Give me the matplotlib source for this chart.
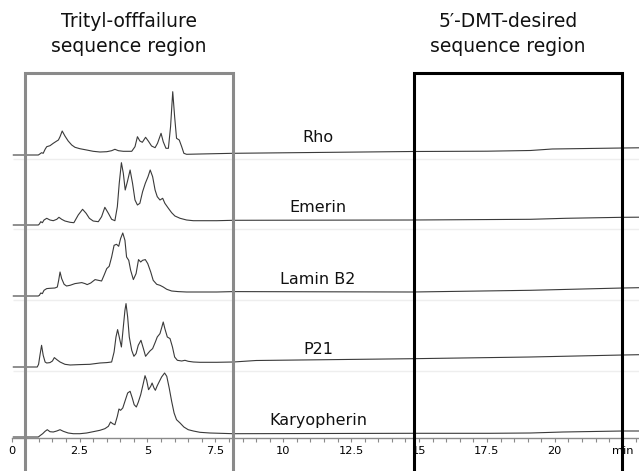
import numpy as np
import matplotlib.pyplot as plt
from matplotlib.patches import Rectangle

# chromatogram traces, time in min, signal height above each trace's own baseline
samples = ['Rho', 'Emerin', 'Lamin B2', 'P21', 'Karyopherin']

rho_t = [0.06, 0.98, 1.02, 1.10, 1.16, 1.23, 1.29, 1.41, 1.53, 1.66, 1.72, 1.78, 1.86, 1.96,
         2.08, 2.21, 2.33, 2.51, 2.76, 3.00, 3.25, 3.50, 3.68, 3.80, 3.93, 4.11, 4.42, 4.54,
         4.63, 4.72, 4.81, 4.93, 5.03, 5.15, 5.28, 5.37, 5.50, 5.58, 5.68, 5.77, 5.85, 5.93,
         6.00, 6.07, 6.17, 6.26, 6.34, 6.44, 6.93, 8.16, 14.77, 17.5, 19.1, 19.9, 22.5, 23.1]
rho_h = [0, 0, 0.7, 2.3, 1.7, 5.7, 8.3, 9.3, 11.7, 14, 15, 18.3, 24, 19,
         14, 10, 7.7, 6.3, 5, 3.7, 3, 3.3, 4.3, 5.7, 4.3, 3.7, 3.7, 8.3,
         18.3, 14, 12.7, 17.7, 14, 9, 7.3, 11.7, 21.7, 13.3, 6.7, 6.7, 28.3, 63.3,
         38.3, 16.7, 15, 8.3, 1.7, 0.7, 1.0, 1.7, 3.5, 3.8, 4.5, 6.0, 7.0, 7.2]

emerin_t = [0.06, 0.98, 1.02, 1.07, 1.13, 1.19, 1.29, 1.41, 1.53, 1.66, 1.74, 1.84, 1.96, 2.15,
            2.29, 2.45, 2.61, 2.74, 2.86, 3.00, 3.19, 3.31, 3.43, 3.56, 3.68, 3.80, 3.89, 3.96,
            4.04, 4.11, 4.18, 4.26, 4.36, 4.45, 4.54, 4.63, 4.72, 4.82, 4.92, 5.02, 5.10, 5.19,
            5.28, 5.36, 5.46, 5.56, 5.64, 5.77, 5.89, 6.01, 6.20, 6.44, 6.69, 7.55, 8.16,
            14.77, 19.1, 20.4, 22.5, 23.1]
emerin_h = [0, 0, 1.0, 3.3, 2.3, 5, 6.7, 5, 4.3, 5.7, 7.7, 5.7, 4, 2.7,
            2.3, 10, 15.7, 11.7, 6.7, 4, 3.3, 8.3, 17.7, 11.7, 5.7, 4.3, 18.3, 41.7,
            62.3, 51.7, 35, 43.3, 55, 41.7, 25, 20, 21.7, 33.3, 41.7, 48.3, 55, 48.3,
            35, 28.3, 25, 26.7, 21.7, 16.7, 12.3, 9, 6.7, 5, 4.3, 4.3, 4.7,
            5.0, 5.7, 6.7, 7.7, 7.8]

lamin_t = [0.06, 0.98, 1.02, 1.07, 1.13, 1.19, 1.29, 1.41, 1.59, 1.68, 1.73, 1.78, 1.84, 1.93,
           2.02, 2.15, 2.33, 2.58, 2.70, 2.78, 2.91, 3.07, 3.19, 3.31, 3.40, 3.50, 3.59, 3.68,
           3.77, 3.86, 3.94, 4.01, 4.09, 4.17, 4.23, 4.31, 4.38, 4.48, 4.58, 4.67, 4.75, 4.82,
           4.92, 5.01, 5.12, 5.21, 5.34, 5.46, 5.58, 5.71, 5.89, 6.13, 6.44, 7.55, 8.16,
           14.77, 19.1, 22.5, 23.1]
lamin_h = [0, 0, 0.7, 3, 2.4, 5.7, 7.4, 7.7, 8, 9, 15.7, 24, 17.4, 11.7,
           10, 10.7, 12.4, 13.4, 12.4, 11.4, 13, 16.4, 15.7, 15, 20.7, 27.4, 29.7, 39,
           50.7, 51.7, 49.7, 57.4, 63, 55.7, 39, 35.7, 25.7, 16.4, 22.4, 36.4, 34, 35.7,
           36.4, 32.4, 24, 15.7, 11.7, 10.7, 9, 6.7, 5, 4.4, 4, 4, 4.4,
           4.0, 5.7, 8.0, 8.3]

p21_t = [0.06, 0.94, 0.99, 1.04, 1.10, 1.16, 1.23, 1.29, 1.41, 1.50, 1.57, 1.66, 1.78, 1.96,
         2.15, 2.51, 2.88, 3.25, 3.50, 3.68, 3.77, 3.84, 3.90, 3.96, 4.04, 4.11, 4.17, 4.21,
         4.27, 4.33, 4.42, 4.50, 4.58, 4.66, 4.76, 4.85, 4.93, 5.01, 5.09, 5.19, 5.29, 5.36,
         5.46, 5.53, 5.58, 5.64, 5.73, 5.83, 5.92, 6.00, 6.10, 6.26, 6.38, 6.50, 6.69, 6.93,
         7.55, 8.16, 9.0, 14.77, 19.1, 22.5, 23.1]
p21_h = [0, 0, 2.7, 11.7, 21.7, 11.7, 5, 4, 4.4, 6, 9.4, 7.4, 5, 2.7,
         2, 2.4, 2.7, 4, 4.4, 5, 15, 30, 37.4, 30, 20, 40, 56.7, 63.4,
         50, 30, 16.7, 10.7, 13.4, 21.7, 26.7, 18.4, 10.7, 13.4, 16, 18.4, 25, 30,
         33.4, 40, 45, 38.4, 30, 28.4, 20, 10, 6.7, 6, 6.7, 5.7, 5, 4.7,
         4.7, 5.0, 6.5, 8.3, 10.0, 12.0, 12.3]

karyo_t = [0.06, 0.98, 1.04, 1.14, 1.23, 1.31, 1.41, 1.53, 1.66, 1.78, 1.90, 2.08, 2.27, 2.51,
           2.76, 3.00, 3.25, 3.43, 3.56, 3.64, 3.72, 3.80, 3.89, 3.95, 4.01, 4.09, 4.17, 4.27,
           4.36, 4.44, 4.51, 4.59, 4.66, 4.75, 4.85, 4.91, 4.97, 5.04, 5.12, 5.17, 5.24, 5.29,
           5.36, 5.44, 5.52, 5.63, 5.71, 5.80, 5.89, 5.98, 6.07, 6.20, 6.34, 6.50, 6.69, 6.93,
           7.30, 7.67, 8.16, 14.77, 17.6, 19.1, 20.3, 22.5, 23.1]
karyo_h = [0, 0, 1.3, 3.3, 5.7, 7.3, 5.3, 5, 6, 7.3, 5.7, 4, 3.3, 3.3,
           4, 5.3, 6.7, 8.3, 10.7, 15, 13.3, 12.3, 20.7, 28, 26.7, 29, 35.7, 44,
           45.7, 39, 32.3, 30, 34.7, 42.3, 54, 61.3, 56.7, 47.3, 50.7, 54, 49, 46.7,
           51.3, 55.7, 60, 64, 60.7, 49, 35.7, 24, 17.3, 14, 10, 7.3, 6, 4.7,
           4, 3.7, 3.3, 3.7, 3.7, 4.0, 5.0, 6.0, 6.0]

traces = [(rho_t, rho_h), (emerin_t, emerin_h), (lamin_t, lamin_h),
          (p21_t, p21_h), (karyo_t, karyo_h)]

tick_values = [0, 2.5, 5, 7.5, 10, 12.5, 15, 17.5, 20, 22.5]
tick_labels = ['0', '2.5', '5', '7.5', '10', '12.5', '15', '17.5', '20', 'min']

failure_window = (0.49, 8.15)
desired_window = (14.81, 22.47)

# layout: vertical stacking of the traces (units ~ pixels)
offsets = [283, 213, 142, 71, 1]

fig = plt.figure(figsize=(6.39, 4.71), dpi=100)
ax = fig.add_axes([11.7 / 639, 33 / 471, 1 - 11.7 / 639, 438 / 471])
ax.set_xlim(0, 23.1)
ax.set_ylim(0, 438)

for k, (t, h) in enumerate(traces):
    if k < 4:
        ax.hlines(offsets[k] - 4, 0.05, 23.1, color='#eeeeee', lw=1, zorder=1)
    ax.plot(t, np.array(h) + offsets[k], color='#3a3a3a', lw=0.8, zorder=2)
    ax.text(11.28, offsets[k] + 12.5, samples[k], ha='center', va='baseline',
            fontsize=11.5, color='#111111')

# region boxes
for (x0, x1), col in [(failure_window, '#8a8a8a'), (desired_window, 'black')]:
    ax.add_patch(Rectangle((x0, -60), x1 - x0, 365.5 + 60, fill=False,
                           edgecolor=col, lw=2.2, clip_on=False, zorder=5))

ax.text(4.32, 404, 'Trityl-offfailure\nsequence region', ha='center', va='center',
        fontsize=13.5, linespacing=1.45, color='#111111')
ax.text(18.27, 404, '5\u2032-DMT-desired\nsequence region', ha='center', va='center',
        fontsize=13.5, linespacing=1.45, color='#111111')

for s in ['left', 'top', 'right']:
    ax.spines[s].set_visible(False)
ax.spines['bottom'].set_color('#8a8a8a')
ax.spines['bottom'].set_linewidth(1)
ax.set_yticks([])
ax.set_xticks(tick_values)
ax.set_xticklabels(tick_labels)
ax.set_xticks(np.arange(0, 23.01, 0.5), minor=True)
ax.tick_params(axis='x', which='both', direction='out', length=3, width=0.8,
               color='#8a8a8a', labelsize=8.2, pad=2.5)

fig.savefig('out.png', dpi=100)
